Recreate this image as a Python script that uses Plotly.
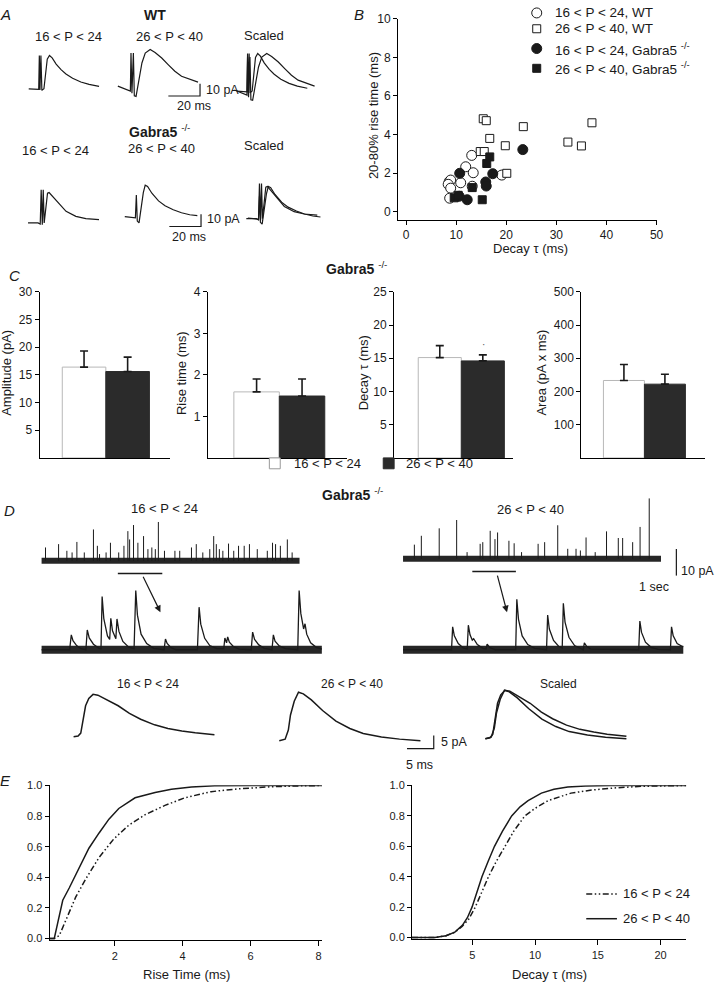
import plotly.graph_objects as go

W, H = 720, 986
FONT = "Liberation Sans, Arial, sans-serif"
INK = "#1a1a1a"

# ======================= DATA =======================
# --- Panel A: averaged evoked currents (time ms, current pA) ---
a_wt_young_t = [0, 4.8, 6.3, 6.7, 7.1, 7.7, 8.3, 9.6, 10.6, 11.7, 13.1, 14.8, 17.3, 20.4, 23.5, 27.7, 32.9, 38.1, 44.4]
a_wt_young_i = [0, 0, -0.5, 26.9, -1.0, 26.9, -1.3, 0, 13, 24, 26.9, 25, 20, 15.5, 12, 8.5, 5.5, 3.5, 2]
a_wt_old_t = [0, 4.8, 7.9, 8.3, 8.9, 9.8, 10.4, 11.5, 13.1, 15.2, 17.3, 20.4, 23.5, 27.7, 31.9, 36.0, 40.2, 44.4, 50.6]
a_wt_old_i = [0.8, -1.3, -3.2, 27.5, -5, 27.5, -7, -7.5, 3.5, 19.5, 27.5, 30.4, 28, 23.5, 18, 12.8, 8.8, 6.7, 4]
a_ko_young_t = [0, 6.3, 7.7, 8.3, 9.0, 9.6, 10.2, 11.3, 12.3, 13.3, 15.6, 19.8, 24.0, 30.2, 36.5, 44.8]
a_ko_young_i = [0, 0, -1, 26.7, -1.5, 26.7, 0, 15, 24, 24.5, 21.3, 14.7, 9.3, 5.3, 3.5, 2.7]
a_ko_old_t = [0, 4.6, 6.7, 7.3, 7.9, 9.0, 10.4, 11.7, 12.9, 14.4, 17.1, 21.3, 25.4, 30.6, 35.8, 41.0, 45.8]
a_ko_old_i = [0.5, 0, -0.5, 18, -3, -4.5, 10, 20, 26, 25, 19.5, 13.3, 9.3, 6.1, 3.7, 2.1, 1.3]
art_wt_young, art_wt_old, art_ko_young, art_ko_old = 6.7, 8.3, 8.3, 7.3
scale_a_ms, scale_a_pA = 20, 10

# --- Panel B: rise time vs decay ---
b_wt_young_x = [8.6, 8.9, 8.4, 8.9, 8.7, 10.9, 11.9, 13.1, 13.4, 13.2, 19.1]
b_wt_young_y = [1.56, 1.64, 1.42, 1.22, 0.70, 1.50, 2.33, 2.92, 2.02, 1.32, 1.90]
b_wt_old_x = [15.4, 16.0, 23.4, 16.7, 19.8, 14.8, 15.6, 20.1, 32.3, 35.0, 37.1]
b_wt_old_y = [4.82, 4.72, 4.41, 3.80, 3.42, 3.12, 3.12, 1.99, 3.61, 3.41, 4.61]
b_ko_young_x = [23.3, 10.7, 17.3, 15.9, 16.0, 12.2, 10.6]
b_ko_young_y = [3.22, 1.99, 1.97, 1.54, 1.33, 0.62, 0.80]
b_ko_old_x = [16.7, 16.1, 13.2, 15.2, 9.6, 10.4]
b_ko_old_y = [2.84, 2.50, 1.25, 0.62, 0.72, 0.85]
b_labels = ["16 < P < 24, WT", "26 < P < 40, WT",
            "16 < P < 24, Gabra5 <sup>-/-</sup>", "26 < P < 40, Gabra5 <sup>-/-</sup>"]

# --- Panel C: bar summaries (mean, SEM) ---
c_groups = ["16 < P < 24", "26 < P < 40"]
c_amp_mean, c_amp_sem = [16.4, 15.6], [2.9, 2.6]
c_rise_mean, c_rise_sem = [1.59, 1.49], [0.31, 0.41]
c_decay_mean, c_decay_sem = [15.1, 14.6], [1.8, 0.9]
c_area_mean, c_area_sem = [233, 222], [48, 30]

# --- Panel D: spontaneous events ---
d_young_spk_t = [0.09, 0.39, 0.58, 0.70, 0.81, 0.98, 1.19, 1.28, 1.33, 1.48, 1.58, 1.77, 1.89, 1.98, 2.02,
                 2.11, 2.21, 2.34, 2.44, 2.53, 2.61, 2.68, 2.82, 3.06, 3.17, 3.44, 3.55, 3.70, 3.86, 3.95,
                 4.01, 4.08, 4.16, 4.29, 4.41, 4.52, 4.65, 4.77, 4.95, 5.18, 5.30, 5.37, 5.48, 5.64, 5.75]
d_young_spk_a = [4.8, 6.0, 3.6, 3.0, 6.8, 3.0, 11.3, 5.4, 2.4, 3.0, 6.5, 3.0, 5.4, 10.7, 7.7,
                 12.9, 6.5, 8.9, 4.2, 4.8, 4.2, 14.0, 3.6, 3.6, 3.6, 4.8, 6.0, 3.0, 4.2, 8.9,
                 6.0, 4.2, 3.6, 6.2, 3.6, 5.4, 5.4, 6.0, 4.2, 3.6, 6.5, 6.0, 5.4, 7.7, 3.0]
d_old_spk_t = [0.26, 0.42, 0.83, 1.23, 1.47, 1.77, 1.83, 2.00, 2.11, 2.17, 2.43, 2.55, 2.72, 3.10, 3.25,
               3.55, 3.78, 3.97, 4.07, 4.20, 4.41, 4.67, 4.94, 5.04, 5.27, 5.44, 5.65]
d_old_spk_a = [5.1, 8.3, 11.0, 14.0, 2.4, 5.4, 6.0, 10.1, 7.1, 9.5, 6.5, 5.6, 2.4, 5.4, 6.0,
               12.1, 3.6, 3.6, 3.0, 7.7, 2.4, 9.9, 7.5, 7.5, 6.0, 11.5, 21.8]
d_record_len_s = 5.92
d_window_young = [1.75, 2.77]
d_window_old = [1.59, 2.59]
scale_d_s, scale_d_pA = 1, 10

d_mid_young_t = [0, 100, 106, 112, 125, 140, 158, 163, 170, 185, 205, 212, 216, 222, 235, 243, 247, 253, 265, 269,
                 276, 290, 310, 330, 336, 342, 355, 375, 400, 437, 442, 448, 462, 480, 556, 562, 568, 582, 600, 625,
                 650, 654, 660, 664, 670, 685, 705, 748, 753, 760, 775, 795, 822, 827, 833, 848, 870, 914, 919, 925,
                 935, 940, 946, 960, 980, 1000]
d_mid_young_i = [0, 0, 4.3, 2.6, 1.2, 0.3, 0, 5.7, 3.4, 1.6, 0.4, 0.3, 15.4, 9, 4, 3, 9.1, 5.5, 3.2, 8.9,
                 5.3, 2.4, 0.8, 0.3, 17.1, 10, 4.5, 1.8, 0.4, 0, 3.1, 1.8, 0.6, 0, 0, 12.3, 7.4, 3.3, 1.2, 0.3,
                 0.3, 3.4, 2.0, 3.7, 2.2, 0.9, 0.2, 0, 5.1, 3.0, 1.4, 0.4, 0, 4.3, 2.5, 1.1, 0.3, 0, 17.1, 10.5,
                 6, 7.5, 4.5, 2.0, 0.7, 0.2]
d_mid_old_t = [0, 173, 177, 183, 197, 215, 229, 233, 239, 247, 252, 265, 285, 296, 300, 310, 330, 402, 406, 412,
               425, 445, 470, 512, 516, 522, 537, 555, 568, 572, 578, 592, 612, 635, 643, 647, 655, 670, 841, 845,
               851, 865, 885, 910, 954, 958, 964, 978, 1000]
d_mid_old_i = [0, 0, 6.6, 4.0, 1.8, 0.5, 0.2, 7.1, 4.3, 2.8, 3.2, 1.5, 0.4, 0.2, 1.6, 0.6, 0, 0, 14.6, 8.8,
               4.0, 1.5, 0.4, 0, 10.0, 6.0, 2.7, 1.0, 0.5, 13.4, 8.0, 3.6, 1.2, 0.3, 0, 2.0, 1.0, 0.2, 0, 8.3,
               5.0, 2.2, 0.7, 0.1, 0, 6.6, 4.0, 1.8, 0.8]

d_mean_young_t = [0.06, 0.9, 1.4, 1.8, 2.3, 2.9, 3.7, 4.6, 6.3, 8.4, 10.5, 12.6, 15.2, 17.7, 20.3, 22.8, 26.4]
d_mean_young_i = [0, 0.3, 1.4, 6.5, 11.7, 14.5, 16.0, 15.7, 14.0, 11.7, 8.8, 6.6, 4.5, 3.1, 2.2, 1.5, 0.8]
d_mean_old_t = [0.0, 1.1, 1.7, 2.1, 2.8, 3.6, 4.5, 6.0, 8.1, 10.6, 13.2, 15.7, 19.1, 22.5, 26.4]
d_mean_old_i = [0, 0.6, 4.0, 9.7, 14.9, 18.3, 17.7, 15.4, 11.4, 7.4, 4.6, 2.7, 1.4, 0.6, 0]
scale_mean_ms, scale_mean_pA = 5, 5

# --- Panel E: cumulative distributions ---
e_rise_young_x = [0.08, 0.22, 0.37, 0.56, 0.85, 1.15, 1.54, 1.97, 2.41, 2.9, 3.48, 4.07, 4.84, 5.62, 6.59, 7.5, 8.15]
e_rise_young_y = [0, 0, 0.02, 0.12, 0.27, 0.39, 0.53, 0.65, 0.74, 0.81, 0.87, 0.92, 0.96, 0.978, 0.992, 0.998, 1.0]
e_rise_old_x = [0.08, 0.22, 0.32, 0.47, 0.66, 0.95, 1.24, 1.54, 1.83, 2.12, 2.6, 3.19, 3.67, 4.26, 4.94, 6.0, 7.0, 8.1]
e_rise_old_y = [0, 0, 0.10, 0.25, 0.33, 0.46, 0.59, 0.69, 0.78, 0.85, 0.92, 0.955, 0.976, 0.99, 0.998, 1.0, 1.0, 1.0]
e_decay_young_x = [0.18, 2.0, 2.9, 3.6, 4.2, 4.7, 5.23, 5.7, 6.28, 6.9, 7.6, 8.3, 9.18, 10.0, 11.02, 12.86, 14.5, 16.5, 18.5, 22.05]
e_decay_young_y = [0, 0, 0.012, 0.035, 0.075, 0.12, 0.2, 0.29, 0.4, 0.5, 0.6, 0.7, 0.8, 0.85, 0.9, 0.95, 0.97, 0.985, 0.995, 1.0]
e_decay_old_x = [0.18, 2.0, 2.9, 3.6, 4.2, 4.6, 4.97, 5.35, 5.76, 6.25, 6.76, 7.4, 8.13, 8.8, 9.44, 10.5, 11.5, 12.6, 14.0, 16.0, 22.05]
e_decay_old_y = [0, 0, 0.012, 0.035, 0.08, 0.13, 0.2, 0.3, 0.4, 0.5, 0.6, 0.7, 0.8, 0.86, 0.9, 0.95, 0.975, 0.99, 0.997, 1.0, 1.0]

# ======================= HELPERS =======================
axes_layout = {}
_n = [0]
data = []
ann = []
shapes = []


def add_axes(x0, x1, y0, y1, xr, yr, xopt=None, yopt=None):
    _n[0] += 1
    k = _n[0]
    s = "" if k == 1 else str(k)
    xa = dict(domain=[x0 / W, x1 / W], range=xr, anchor="y" + s, visible=False,
              fixedrange=True, showgrid=False, zeroline=False)
    ya = dict(domain=[1 - y1 / H, 1 - y0 / H], range=yr, anchor="x" + s, visible=False,
              fixedrange=True, showgrid=False, zeroline=False)
    if xopt is not None:
        xa.update(visible=True, **xopt)
    if yopt is not None:
        ya.update(visible=True, **yopt)
    axes_layout["xaxis" + s] = xa
    axes_layout["yaxis" + s] = ya
    return "x" + s, "y" + s


def trace_axes(ox, oy, sx, sy, x0, x1, y0, y1):
    # ox,oy: pixel of (0,0); sx,sy: pixels per unit
    return add_axes(x0, x1, y0, y1, [(x0 - ox) / sx, (x1 - ox) / sx], [(oy - y1) / sy, (oy - y0) / sy])


def axstyle(tickvals, ticktext=None, ticklen=4, size=12, labels=True, ticks="outside"):
    d = dict(showline=True, linecolor="black", linewidth=1, ticks=ticks, ticklen=ticklen, tickwidth=1,
             tickcolor="black", tickvals=tickvals, showticklabels=labels,
             tickfont=dict(family=FONT, size=size, color=INK))
    if ticktext is not None:
        d["ticktext"] = ticktext
    return d


def line(x, y, ax, width=1.4, color=INK, dash=None):
    data.append(go.Scatter(x=x, y=y, xaxis=ax[0], yaxis=ax[1], mode="lines",
                           line=dict(color=color, width=width, dash=dash),
                           hoverinfo="skip", showlegend=False))


def txt(x, y, s, size=13, xanchor="center", angle=0, color=INK):
    ann.append(dict(x=x / W, y=1 - y / H, xref="paper", yref="paper", text=s, showarrow=False,
                    xanchor=xanchor, yanchor="middle", textangle=angle,
                    font=dict(family=FONT, size=size, color=color)))


def sym(cx, cy, kind, filled, half):
    shapes.append(dict(type=kind, xref="paper", yref="paper", xsizemode="pixel", ysizemode="pixel",
                       xanchor=cx / W, yanchor=1 - cy / H, x0=-half, x1=half, y0=-half, y1=half,
                       line=dict(color=INK, width=1), fillcolor=INK if filled else "white"))


def scalebar(ax, cx, cy, lx, ly):
    line([cx - lx, cx, cx], [cy, cy, cy + ly], ax, width=1.2)


# ======================= PANEL A =======================
SXA, SYA = 1.6, 1.25
axA1 = trace_axes(29, 82.7, SXA, SYA, 20, 115, 35, 100)
line(a_wt_young_t, a_wt_young_i, axA1, width=1.2)
axA2 = trace_axes(119, 81, SXA, SYA, 112, 240, 35, 100)
line(a_wt_old_t, a_wt_old_i, axA2, width=1.2)
scalebar(axA2, (202 - 119) / SXA, (81 - 90) / SYA, scale_a_ms, scale_a_pA)
axA3 = trace_axes(250, 85, SXA, SYA, 225, 330, 35, 100)
kwt = max(a_wt_old_i) / max(a_wt_young_i)
line([t - art_wt_young for t in a_wt_young_t], [v * kwt for v in a_wt_young_i], axA3, width=1.2)
line([t - art_wt_old for t in a_wt_old_t], a_wt_old_i, axA3, width=1.2)

axA4 = trace_axes(28.3, 218.3, SXA, SYA, 20, 110, 165, 235)
line(a_ko_young_t, a_ko_young_i, axA4, width=1.2)
axA5 = trace_axes(126, 212.7, SXA, SYA, 110, 240, 165, 235)
line(a_ko_old_t, a_ko_old_i, axA5, width=1.2)
scalebar(axA5, (203 - 126) / SXA, (212.7 - 222) / SYA, scale_a_ms, scale_a_pA)
axA6 = trace_axes(262, 214, SXA, SYA, 235, 330, 165, 235)
kko = max(a_ko_old_i[6:]) / max(a_ko_young_i[6:])
line([t - art_ko_young for t in a_ko_young_t], [v * kko for v in a_ko_young_i], axA6, width=1.2)
line([t - art_ko_old for t in a_ko_old_t], a_ko_old_i, axA6, width=1.2)

txt(6, 8, "<i>A</i>", 15)
txt(157, 8, "<b>WT</b>", 14)
txt(69, 30, "16 < P < 24")
txt(171, 30, "26 < P < 40")
txt(267, 29, "Scaled")
txt(206, 84, "10 pA", 12.5, "left")
txt(196, 100, "20 ms", 12.5)
txt(128, 125, "<b>Gabra5</b> <sup>-/-</sup>", 14, "left")
txt(56, 145, "16 < P < 24")
txt(163, 143, "26 < P < 40")
txt(267, 140, "Scaled")
txt(207, 214, "10 pA", 12.5, "left")
txt(191, 233, "20 ms", 12.5)

# ======================= PANEL B =======================
axB = add_axes(402, 663, 12, 215, [-1.6, 50], [-0.41, 10],
               xopt=axstyle([0, 10, 20, 30, 40, 50], size=12),
               yopt=axstyle([0, 2, 4, 6, 8, 10], size=12))
for xs, ys, symb, fill, size in [
    (b_wt_young_x, b_wt_young_y, "circle", "white", 10),
    (b_wt_old_x, b_wt_old_y, "square", "white", 8),
    (b_ko_young_x, b_ko_young_y, "circle", INK, 10),
    (b_ko_old_x, b_ko_old_y, "square", INK, 8),
]:
    data.append(go.Scatter(x=xs, y=ys, xaxis=axB[0], yaxis=axB[1], mode="markers",
                           marker=dict(symbol=symb, size=size, color=fill, line=dict(color=INK, width=1)),
                           hoverinfo="skip", showlegend=False, cliponaxis=False))
txt(363, 8, "<i>B</i>", 15)
txt(377, 110, "20-80% rise time (ms)", 13, angle=-90)
txt(536, 244, "Decay τ (ms)", 13)
leg_rows = [6, 22, 42, 62]
sym(542, leg_rows[0], "circle", False, 5)
sym(542, leg_rows[1], "rect", False, 4)
sym(542, leg_rows[2], "circle", True, 5)
sym(542, leg_rows[3], "rect", True, 4)
for ry, lab in zip(leg_rows, b_labels):
    txt(558, ry, lab, 13.5, "left")

# ======================= PANEL C =======================
c_specs = [
    (40, 172, [-1.02, 1.98], [0, 30], [5, 10, 15, 20, 25, 30], c_amp_mean, c_amp_sem, "Amplitude (pA)", 7),
    (210, 350, [-1.07, 1.98], [0, 4], [1, 2, 3, 4], c_rise_mean, c_rise_sem, "Rise time (ms)", 184),
    (398, 518, [-1.06, 1.70], [0, 25], [5, 10, 15, 20, 25], c_decay_mean, c_decay_sem, "Decay τ (ms)", 367),
    (587, 712, [-1.04, 1.98], [0, 500], [100, 200, 300, 400, 500], c_area_mean, c_area_sem, "Area (pA x ms)", 547),
]
for x0, x1, xr, yr, tv, mean, sem, title, tx in c_specs:
    ax = add_axes(x0, x1, 288, 456, xr, yr,
                  xopt=dict(showline=True, linecolor="black", linewidth=1, ticks="", showticklabels=False),
                  yopt=axstyle(tv, size=12))
    data.append(go.Bar(x=[0, 1], y=mean, width=[1, 1], xaxis=ax[0], yaxis=ax[1],
                       marker=dict(color=["white", "#2b2b2b"],
                                   line=dict(color=["#b8b8b8", "#2b2b2b"], width=1)),
                       error_y=dict(type="data", symmetric=False, array=sem, arrayminus=[0, 0],
                                    color=INK, thickness=1.6, width=4),
                       hoverinfo="skip", showlegend=False))
    txt(tx, 370, title, 13, angle=-90)
txt(15, 272, "<i>C</i>", 15)
txt(327, 264, "<b>Gabra5</b> <sup>-/-</sup>", 14, "left")
txt(488, 341, "·", 10, color="#555")
shapes.append(dict(type="rect", xref="paper", yref="paper", x0=272 / W, x1=283 / W,
                   y0=1 - 467 / H, y1=1 - 456 / H, line=dict(color="#999", width=1), fillcolor="white"))
shapes.append(dict(type="rect", xref="paper", yref="paper", x0=387 / W, x1=398 / W,
                   y0=1 - 467 / H, y1=1 - 456 / H, line=dict(color="#2b2b2b", width=1), fillcolor="#2b2b2b"))
txt(295, 462, c_groups[0], 13, "left")
txt(408, 462, c_groups[1], 13, "left")

# ======================= PANEL D =======================
SXD, SYD = 44, 2.8
NOISE = "#262626"


def spikes(ts, amps):
    xs, ys = [], []
    for t, a in zip(ts, amps):
        xs += [t, t, None]
        ys += [0, a, None]
    return xs, ys


axD1 = trace_axes(42, 560, SXD, SYD, 35, 310, 495, 580)
line([0, d_record_len_s], [0, 0], axD1, width=6, color=NOISE)
sx_, sy_ = spikes(d_young_spk_t, d_young_spk_a)
line(sx_, sy_, axD1, width=1.0)
shapes.append(dict(type="line", xref=axD1[0], yref=axD1[1], x0=d_window_young[0], x1=d_window_young[1],
                   y0=-4.6, y1=-4.6, line=dict(color=INK, width=1.6)))

axD2 = trace_axes(407, 558, SXD, SYD, 400, 705, 490, 590)
line([0, d_record_len_s], [0, 0], axD2, width=6, color=NOISE)
sx_, sy_ = spikes(d_old_spk_t, d_old_spk_a)
line(sx_, sy_, axD2, width=1.0)
shapes.append(dict(type="line", xref=axD2[0], yref=axD2[1], x0=d_window_old[0], x1=d_window_old[1],
                   y0=-4.6, y1=-4.6, line=dict(color=INK, width=1.6)))
scalebar(axD2, (683 - 407) / SXD, (558 - 576) / SYD, scale_d_s, scale_d_pA)

SXM, SYM = 0.283, 3.5
axD3 = trace_axes(42, 650, SXM, SYM, 35, 335, 575, 665)
line([0, 1000], [0, 0], axD3, width=8, color=NOISE)
line(d_mid_young_t, d_mid_young_i, axD3, width=1.3)
axD4 = trace_axes(407, 650, SXM, SYM, 400, 700, 575, 665)
line([0, 1000], [0, 0], axD4, width=8, color=NOISE)
line(d_mid_old_t, d_mid_old_i, axD4, width=1.3)

SXE, SYE = 5.4, 2.68
axD5 = trace_axes(74, 738, SXE, SYE, 65, 230, 685, 750)
line(d_mean_young_t, d_mean_young_i, axD5, width=1.5)
axD6 = trace_axes(282, 742, SXE, SYE, 270, 470, 685, 760)
line(d_mean_old_t, d_mean_old_i, axD6, width=1.5)
scalebar(axD6, (438 - 282) / SXE, (742 - 750) / SYE, scale_mean_ms, scale_mean_pA)
axD7 = trace_axes(490, 740, SXE, SYE, 480, 650, 685, 750)
kmean = max(d_mean_old_i) / max(d_mean_young_i)
line(d_mean_young_t, [v * kmean for v in d_mean_young_i], axD7, width=1.5)
line(d_mean_old_t, d_mean_old_i, axD7, width=1.5)

txt(323, 492, "<b>Gabra5</b> <sup>-/-</sup>", 14, "left")
txt(10, 509, "<i>D</i>", 15)
txt(166, 507, "16 < P < 24", 13)
txt(536, 508, "26 < P < 40", 13)
txt(686, 570, "10 pA", 12.5, "left")
txt(660, 587, "1 sec", 12.5)
txt(149, 685, "16 < P < 24", 12)
txt(355, 685, "26 < P < 40", 12)
txt(564, 685, "Scaled", 12)
txt(443, 743, "5 pA", 12.5, "left")
txt(424, 767, "5 ms", 12.5)
for tail, tip in [((144, 575), (162, 612)), ((502, 574), (512, 612))]:
    ann.append(dict(x=tip[0] / W, y=1 - tip[1] / H, xref="paper", yref="paper", text="",
                    showarrow=True, ax=tail[0] - tip[0], ay=tail[1] - tip[1],
                    arrowhead=2, arrowsize=1.1, arrowwidth=1.2, arrowcolor=INK))

# ======================= PANEL E =======================
ylab = ["0.0", "0.2", "0.4", "0.6", "0.8", "1.0"]
yv = [0, 0.2, 0.4, 0.6, 0.8, 1.0]
DASHDOT = "6px,2.5px,1.5px,2.5px,1.5px,2.5px"
axE1 = add_axes(50, 325, 787, 944, [0.08, 8.1], [-0.013, 1.002],
                xopt=axstyle([2, 4, 6, 8], ticklen=5, size=11),
                yopt=axstyle(yv, ylab, ticklen=4, size=11))
line(e_rise_young_x, e_rise_young_y, axE1, width=1.5, dash=DASHDOT)
line(e_rise_old_x, e_rise_old_y, axE1, width=1.5)
axE2 = add_axes(416, 693, 787, 943, [0.18, 22.05], [-0.013, 1.002],
                xopt=axstyle([5, 10, 15, 20], ticklen=5, size=11),
                yopt=axstyle(yv, ylab, ticklen=4, size=11))
line(e_decay_young_x, e_decay_young_y, axE2, width=1.5, dash=DASHDOT)
line(e_decay_old_x, e_decay_old_y, axE2, width=1.5)
txt(6, 782, "<i>E</i>", 15)
txt(188, 978, "Rise Time (ms)", 13)
txt(555, 978, "Decay τ (ms)", 13)
shapes.append(dict(type="line", xref="paper", yref="paper", x0=592 / W, x1=623 / W,
                   y0=1 - 897 / H, y1=1 - 897 / H, line=dict(color=INK, width=1.5, dash=DASHDOT)))
shapes.append(dict(type="line", xref="paper", yref="paper", x0=592 / W, x1=623 / W,
                   y0=1 - 922 / H, y1=1 - 922 / H, line=dict(color=INK, width=1.5)))
txt(627, 897, c_groups[0], 13, "left")
txt(627, 922, c_groups[1], 13, "left")

# ======================= FIGURE =======================
fig = go.Figure(data=data)
fig.update_layout(width=W, height=H, margin=dict(l=0, r=0, t=0, b=0),
                  paper_bgcolor="white", plot_bgcolor="white",
                  font=dict(family=FONT, color=INK), showlegend=False, bargap=0,
                  annotations=ann, shapes=shapes, **axes_layout)
fig.write_html("out.html", config={"displayModeBar": False, "staticPlot": True},
               post_script="document.body.style.margin='0px';document.body.style.overflow='hidden';")
